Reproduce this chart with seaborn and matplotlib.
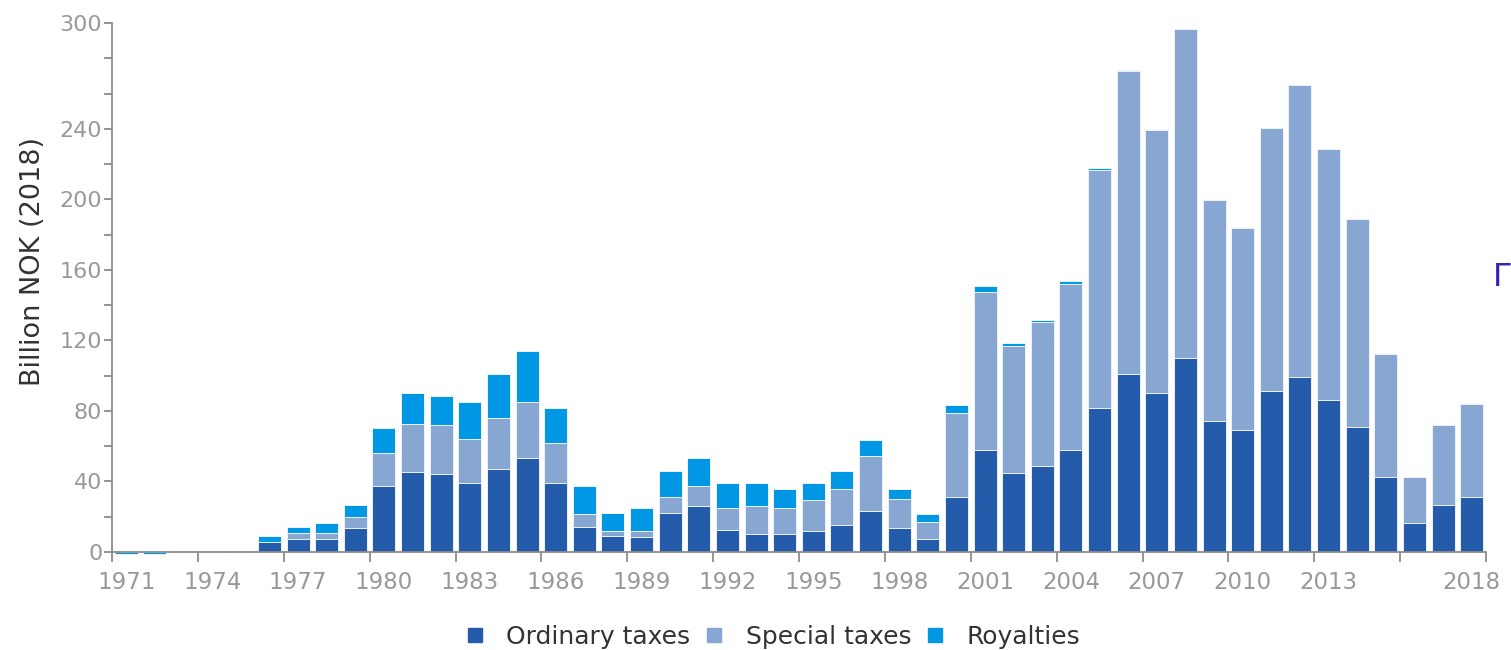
import numpy as np
import pandas as pd
import seaborn as sns
from matplotlib import pyplot as plt
from matplotlib.lines import Line2D


years = list(range(1971, 2019))
ordinary = [0, 0, 0, 0, 0,
            5.9, 7.4, 7.4, 13.6, 37.5, 45.3, 44.5, 39.0, 47.0, 53.4,
            39.0, 14.4, 9.3, 8.5, 22.3, 26.0, 12.7, 10.1, 10.1, 11.7,
            15.3, 23.3, 13.6, 7.4, 31.2, 57.7, 44.6, 48.9, 57.7, 81.4,
            101.0, 90.4, 109.8, 74.5, 69.0, 91.3, 99.2, 86.0, 70.8, 42.8,
            16.3, 26.9, 31.3]
special = [0, 0, 0, 0, 0,
           0, 3.6, 3.6, 6.1, 18.4, 27.2, 27.3, 25.0, 29.1, 31.6,
           23.1, 7.2, 2.4, 3.2, 8.9, 11.3, 12.3, 15.9, 14.9, 17.8,
           20.3, 30.9, 16.7, 9.6, 47.6, 89.8, 72.2, 81.8, 94.3, 135.5,
           171.7, 148.9, 186.6, 125.1, 114.7, 148.9, 165.6, 142.8, 118.0, 69.4,
           26.5, 44.9, 52.6]
royalties = [-1.0, -1.0, 0, 0, 0,
             3.2, 3.4, 5.3, 7.2, 14.2, 17.7, 16.7, 21.0, 24.9, 29.0,
             19.3, 15.7, 10.6, 13.3, 15.0, 15.9, 14.2, 13.2, 10.6, 9.7,
             10.6, 9.6, 5.3, 4.4, 4.3, 3.5, 1.6, 0.8, 1.6, 0.8,
             0.8, 0, 0, 0, 0, 0, 0, 0, 0, 0,
             0, 0, 0]

series_names = ["Ordinary taxes", "Special taxes", "Royalties"]
colors = ["#245CAB", "#87A6D1", "#0098E4"]
y_labels = [0, 40, 80, 120, 160, 200, 240, 300]

df = pd.DataFrame({"year": [str(y) for y in years],
                   "Ordinary taxes": ordinary,
                   "Special taxes": special,
                   "Royalties": royalties})
# cumulative heights, drawn back to front
df["top_special"] = df["Ordinary taxes"] + df["Special taxes"]
df["top_all"] = df["top_special"] + df["Royalties"]

sns.set_style("ticks")
plt.rcParams["font.family"] = ["DejaVu Sans"]

fig = plt.figure(figsize=(15.11, 6.5), dpi=100)
ax = fig.add_axes([112 / 1511, (650 - 557.3) / 650, 1374 / 1511, 534.3 / 650])

bar_kw = dict(errorbar=None, width=0.8, edgecolor="#eef3fa", linewidth=0.7, ax=ax)
sns.barplot(data=df, x="year", y="top_all", color=colors[2], saturation=1, **bar_kw)
sns.barplot(data=df, x="year", y="top_special", color=colors[1], saturation=1, **bar_kw)
sns.barplot(data=df, x="year", y="Ordinary taxes", color=colors[0], saturation=1, **bar_kw)

ax.set_xlim(-0.5, len(years) - 0.5)
ax.set_ylim(-3, 300)
ax.set_xlabel("")
ax.set_ylabel("")

for s in ["top", "right"]:
    ax.spines[s].set_visible(False)
ax.spines["bottom"].set_position(("data", 0))
ax.spines["left"].set_bounds(0, 300)
for s in ["bottom", "left"]:
    ax.spines[s].set_color("#8c8c8c")
    ax.spines[s].set_linewidth(1.3)

# x axis: tick marks at band edges, labels centred on bars
edges = [i - 0.5 for i in range(0, len(years), 3)] + [len(years) - 0.5]
label_idx = list(range(0, len(years) - 3, 3)) + [len(years) - 1]
ax.set_xticks(edges)
ax.set_xticklabels([""] * len(edges))
ax.set_xticks(label_idx, minor=True)
ax.set_xticklabels([str(years[i]) for i in label_idx], minor=True)
ax.tick_params(axis="x", which="major", length=7, width=1.3, color="#8c8c8c", direction="out")
ax.tick_params(axis="x", which="minor", length=0, pad=14, labelsize=16.5, labelcolor="#999999")

ax.set_yticks(y_labels)
ax.set_yticklabels([str(v) for v in y_labels])
ax.set_yticks([v for v in range(20, 300, 20) if v not in y_labels], minor=True)
ax.tick_params(axis="y", which="both", length=6, width=1.3, color="#8c8c8c", direction="out")
ax.tick_params(axis="y", which="major", pad=1, labelsize=16, labelcolor="#999999")

fig.text(33 / 1511, (650 - 262) / 650, "Billion NOK (2018)", rotation=90,
         ha="center", va="center", fontsize=19.5, color="#333333")

fig.text(1493 / 1511, (650 - 278) / 650, "Γ", ha="left", va="center",
         fontsize=23, color="#3B1DB8")

handles = [Line2D([], [], marker="s", linestyle="", markersize=10,
                  markerfacecolor=c, markeredgecolor=c) for c in colors]
fig.legend(handles, series_names, loc="center", ncol=3,
           bbox_to_anchor=(772 / 1511, (650 - 637) / 650), frameon=False,
           fontsize=18, labelcolor="#333333", handlelength=0.9,
           handletextpad=0.8, columnspacing=0.5, borderpad=0)

fig.savefig("out.png", dpi=100)
